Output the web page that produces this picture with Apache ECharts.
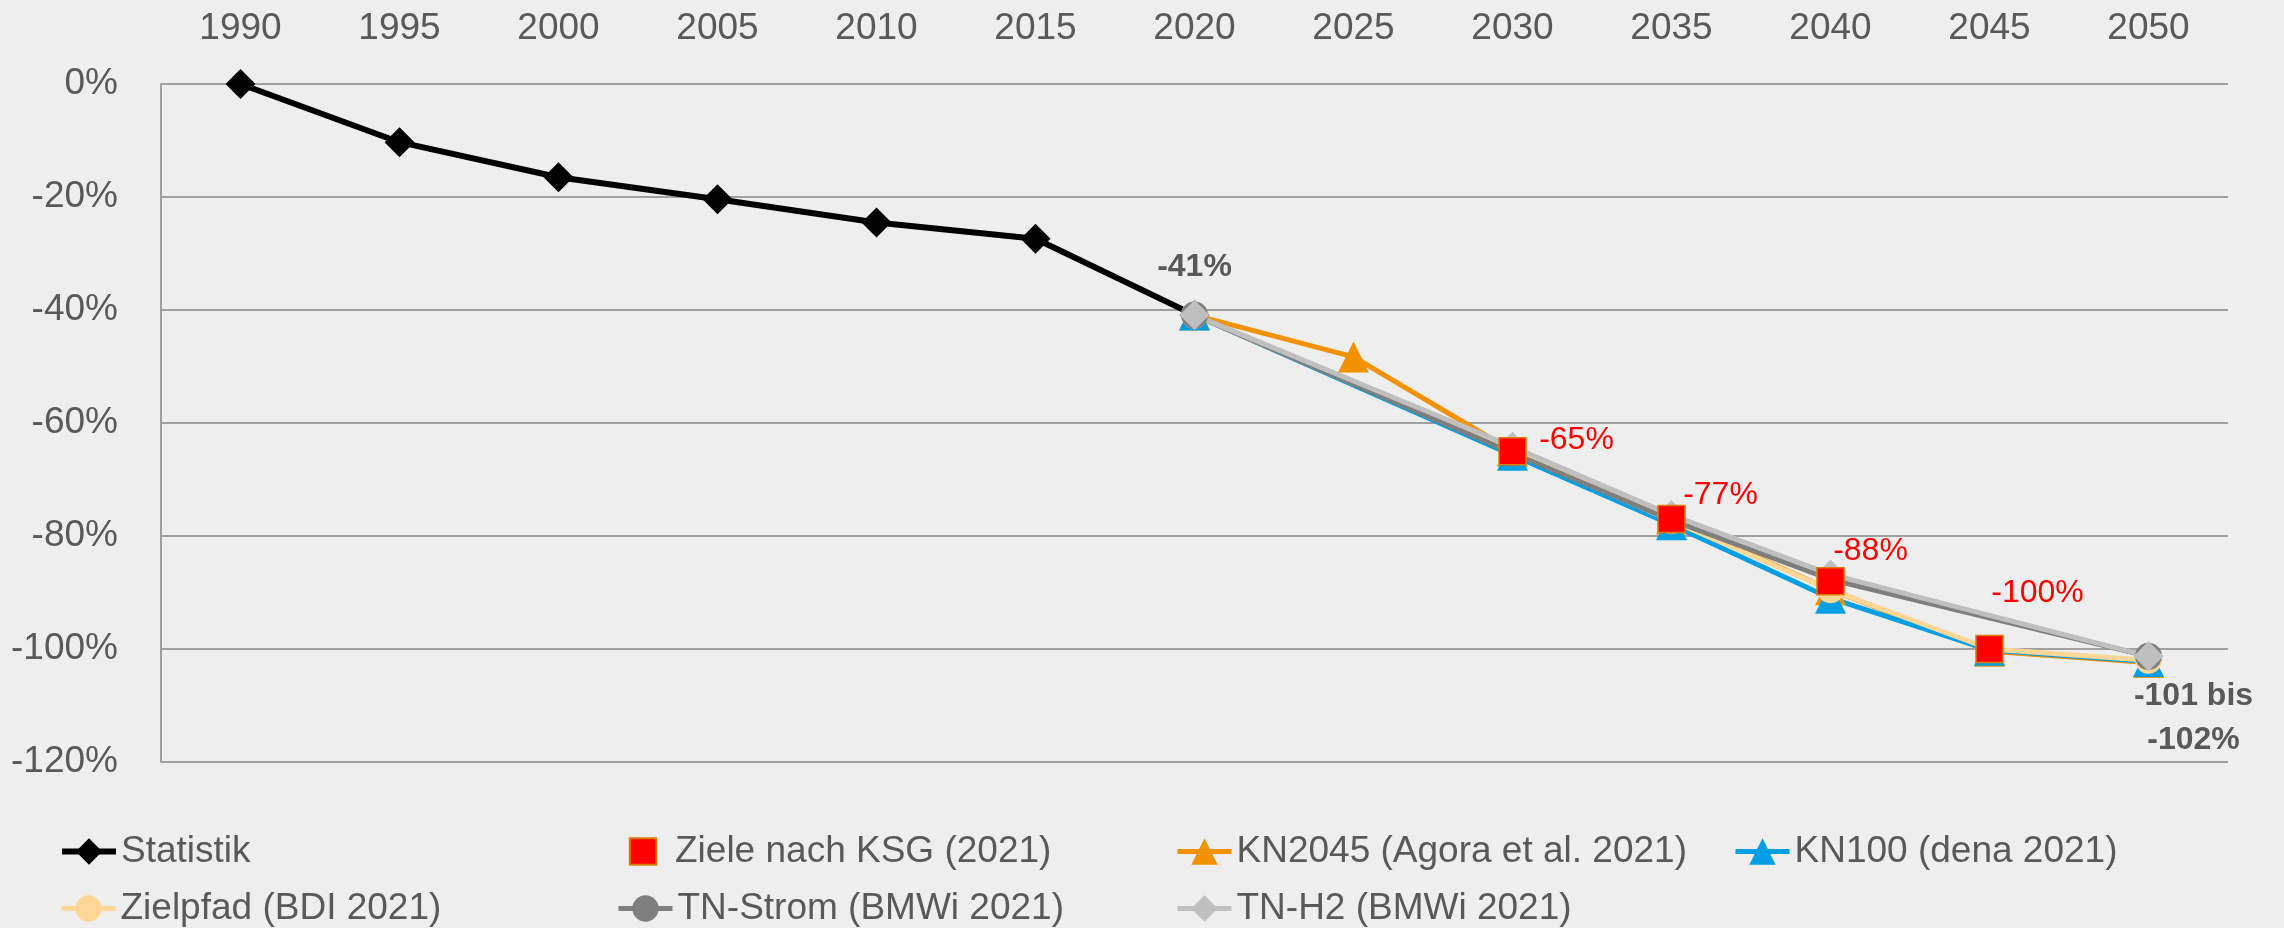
<!DOCTYPE html>
<html>
<head>
<meta charset="utf-8">
<title>Treibhausgasminderung</title>
<script src="https://cdn.jsdelivr.net/npm/echarts@6/dist/echarts.min.js"></script>
<style>
    html, body { margin: 0; padding: 0; background: #eeeeee; }
    #chart { width: 2284px; height: 928px; }
</style>
</head>
<body>
<div id="chart"></div>
<script>
// Jahre (Kategorien)
const years = ['1990', '1995', '2000', '2005', '2010', '2015', '2020', '2025', '2030', '2035', '2040', '2045', '2050']

// Minderung ggü. 1990 in %
const statistik = [0, -10.3, -16.5, -20.4, -24.5, -27.4, -40.9, null, null, null, null, null, null]
const zieleKSG = [null, null, null, null, null, null, null, null, -65, -77, -88, -100, null]
const kn2045 = [null, null, null, null, null, null, -40.9, -48.3, -65, -77, -89.5, -100.4, -102.4]
const kn100 = [null, null, null, null, null, null, -40.9, null, -65.7, -78, -91, -100.2, -102.2]
const zielpfad = [null, null, null, null, null, null, -40.9, null, -65, -77.3, -89.5, -100, -102]
const tnStrom = [null, null, null, null, null, null, -40.9, null, -65.3, -77.2, -87.7, null, -101.3]
const tnH2 = [null, null, null, null, null, null, -40.9, null, -64.2, -76.3, -86.8, null, -101.3]

// Beschriftungen
const seriesNames = ['Statistik', 'Ziele nach KSG (2021)', 'KN2045 (Agora et al. 2021)', 'KN100 (dena 2021)',
    'Zielpfad (BDI 2021)', 'TN-Strom (BMWi 2021)', 'TN-H2 (BMWi 2021)']
const ksgLabels = ['-65%', '-77%', '-88%', '-100%']
const startLabel = '-41%'
const endLabel = '-101 bis\n-102%'

const FONT = '"Liberation Sans", Arial, sans-serif'
const TEXT = '#595959'
const GRID = '#a0a0a0'

// Label-Versatz relativ zum Punkt (Mitte)
const ksgOffsets = [[64, -11], [49, -24], [40, -30], [48, -56]]

/**
 * Linienserie mit Marker
 */
const lineSeries = function (name, data, color, symbol, size, width) {
    return {
        name: name,
        type: 'line',
        data: data,
        connectNulls: true,
        symbol: symbol,
        symbolSize: size,
        showAllSymbol: true,
        itemStyle: { color: color },
        lineStyle: { color: color, width: width },
        emphasis: { disabled: true }
    }
}

const labelAt = function (values, idx, text, offset, extra) {
    return values.map((v, i) => {
        if (i !== idx || v === null) return v
        return {
            value: v,
            label: Object.assign({
                show: true,
                position: 'inside',
                offset: offset,
                formatter: text,
                fontFamily: FONT,
                fontSize: 32
            }, extra)
        }
    })
}

// KSG-Ziele: nur Quadrate mit roten Werten
const ksgData = zieleKSG.map((v, i) => {
    if (v === null) return null
    let k = i - 8
    return {
        value: v,
        label: {
            show: true,
            position: 'inside',
            offset: ksgOffsets[k],
            formatter: ksgLabels[k],
            color: '#ff0000',
            fontFamily: FONT,
            fontSize: 32
        }
    }
})

let h2Data = labelAt(tnH2, 6, startLabel, [0, -48], { color: TEXT, fontWeight: 'bold' })
h2Data = h2Data.map((d, i) => {
    if (i !== 12) return d
    return {
        value: d,
        label: {
            show: true, position: 'inside', offset: [45, 62], formatter: endLabel,
            color: TEXT, fontWeight: 'bold', fontFamily: FONT, fontSize: 32, lineHeight: 44, align: 'center'
        }
    }
})

const lineWidths = [6, 0, 5, 5, 5, 5, 5]
const series = [
    lineSeries(seriesNames[0], statistik, '#000000', 'diamond', 30, lineWidths[0]),
    lineSeries(seriesNames[2], kn2045, '#f39200', 'triangle', 31, lineWidths[2]),
    lineSeries(seriesNames[3], kn100, '#009fe3', 'triangle', 31, lineWidths[3]),
    lineSeries(seriesNames[4], zielpfad, '#fed696', 'circle', 27, lineWidths[4]),
    lineSeries(seriesNames[5], tnStrom, '#7f7f7f', 'circle', 27, lineWidths[5]),
    lineSeries(seriesNames[6], h2Data, '#bfbfbf', 'diamond', 30, lineWidths[6])
]
let ksg = lineSeries(seriesNames[1], ksgData, '#ff0000', 'rect', 27, 0)
ksg.itemStyle = { color: '#ff0000', borderColor: '#d97c00', borderWidth: 1.5 }
ksg.lineStyle = { width: 0, opacity: 0 }
series.push(ksg)

// Legende: feste Spalten wie im Original
const legendPos = [[59, 833], [616, 833], [1175, 833], [1733, 833], [59, 890], [616, 890], [1175, 890]]
const legends = seriesNames.map((name, i) => {
    let lg = {
        data: [name],
        left: legendPos[i][0],
        top: legendPos[i][1],
        padding: 0,
        itemWidth: 54,
        itemHeight: 33,
        selectedMode: false,
        lineStyle: { width: lineWidths[i] },
        textStyle: { color: TEXT, fontFamily: FONT, fontSize: 37 }
    }
    if (i === 1) lg.lineStyle = { width: 0, opacity: 0 }
    return lg
})

const chart = echarts.init(document.getElementById('chart'))
chart.setOption({
    backgroundColor: '#eeeeee',
    animation: false,
    grid: { left: 161, right: 56, top: 84, bottom: 166, containLabel: false },
    legend: legends,
    xAxis: {
        type: 'category',
        position: 'top',
        data: years,
        boundaryGap: true,
        axisLine: { show: false },
        axisTick: { show: false },
        splitLine: { show: false },
        axisLabel: { interval: 0, color: TEXT, fontFamily: FONT, fontSize: 37, margin: 37 }
    },
    yAxis: {
        type: 'value',
        min: -120,
        max: 0,
        interval: 20,
        axisLine: { show: true, lineStyle: { color: GRID, width: 2 } },
        axisTick: { show: false },
        splitLine: { lineStyle: { color: GRID, width: 2 } },
        axisLabel: { formatter: '{value}%', color: TEXT, fontFamily: FONT, fontSize: 37, margin: 43 }
    },
    series: series
})
</script>
</body>
</html>
